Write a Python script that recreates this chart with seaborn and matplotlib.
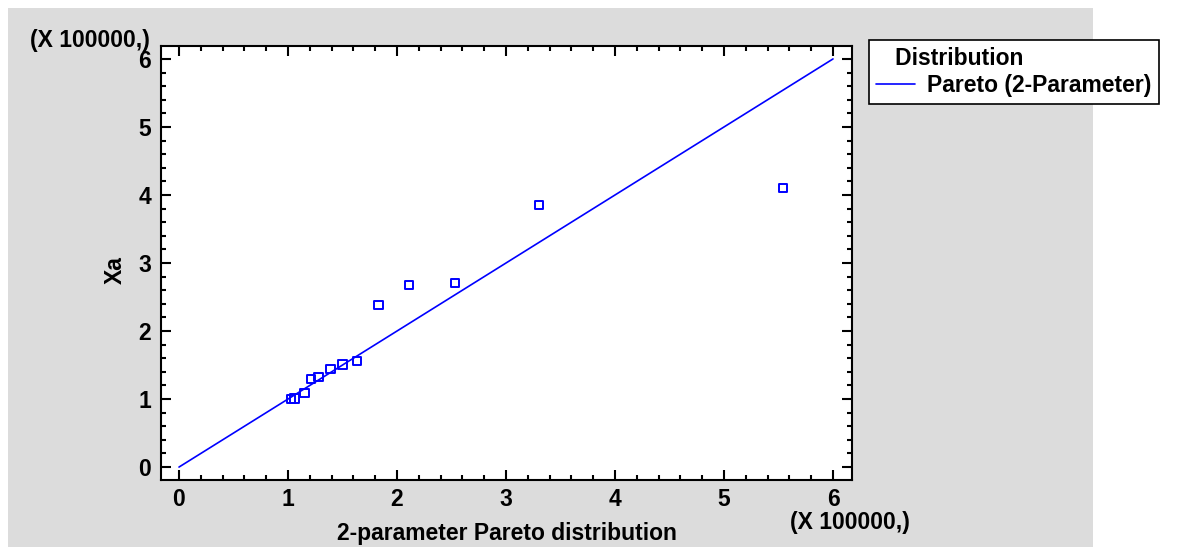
import pandas as pd
import seaborn as sns
import matplotlib.pyplot as plt
from matplotlib.patches import Rectangle
from matplotlib.ticker import MultipleLocator


# quantile plot values, both axes in units of 100000
pareto_q = [1.03, 1.06, 1.15, 1.21, 1.28, 1.39, 1.50, 1.63, 1.83, 2.11, 2.53, 3.30, 5.54]
xa_values = [1.00, 1.01, 1.09, 1.29, 1.32, 1.44, 1.51, 1.56, 2.38, 2.68, 2.71, 3.85, 4.10]
ref_x = [0, 6]
ref_y = [0, 6]
dist_name = "Pareto (2-Parameter)"

BLUE = '#0000ff'
GRAY = '#dcdcdc'
W, H = 1183, 547
FS = 16.5


def plot_quantiles():
    sns.set_theme(style='white')
    plt.rcParams['font.family'] = ['Liberation Sans', 'DejaVu Sans']
    plt.rcParams['font.weight'] = 'bold'
    for key in ('text.color', 'axes.labelcolor', 'xtick.color', 'ytick.color'):
        plt.rcParams[key] = 'black'

    points = pd.DataFrame({"q": pareto_q, "xa": xa_values})
    line = pd.DataFrame({"q": ref_x, "xa": ref_y})

    fig = plt.figure(figsize=(W / 100, H / 100), dpi=100)
    fig.patch.set_facecolor('white')
    fig.patches.append(Rectangle((8 / W, 0), (1093 - 8) / W, 1 - 8 / H,
                                 transform=fig.transFigure, facecolor=GRAY,
                                 edgecolor='none', zorder=-10))

    ax = fig.add_axes([161 / W, 1 - 480 / H, 691 / W, 434 / H])
    ax.set_facecolor('white')

    sns.lineplot(x="q", y="xa", data=line, color=BLUE, linewidth=1.2,
                 label=dist_name, ax=ax)
    sns.scatterplot(x="q", y="xa", data=points, marker='s', s=36,
                    ax=ax, zorder=3)
    pts = ax.collections[-1]
    pts.set_facecolor('none')
    pts.set_edgecolor(BLUE)
    pts.set_linewidth(1.4)

    ax.set_xlim(-0.165, 6.174)
    ax.set_ylim(-0.19, 6.19)
    for a in (ax.xaxis, ax.yaxis):
        a.set_major_locator(MultipleLocator(1))
        a.set_minor_locator(MultipleLocator(0.2))
    ax.tick_params(which='both', direction='in', top=True, right=True,
                   bottom=True, left=True, color='black', width=1.5)
    ax.tick_params(which='major', length=7, labelsize=FS, labelcolor='black')
    ax.tick_params(axis='x', which='major', pad=6)
    ax.tick_params(axis='y', which='major', pad=7)
    ax.tick_params(which='minor', length=3.5)
    for lbl in ax.get_xticklabels() + ax.get_yticklabels():
        lbl.set_fontweight('bold')
    for sp in ax.spines.values():
        sp.set_visible(True)
        sp.set_color('black')
        sp.set_linewidth(1.5)

    ax.set_xlabel("2-parameter Pareto distribution", fontsize=FS, fontweight='bold')
    ax.set_ylabel("Xa", fontsize=FS, fontweight='bold')
    ax.xaxis.set_label_coords(0.5, (480 - 522) / 434)
    ax.yaxis.label.set_va('center')
    ax.yaxis.set_label_coords((115 - 161) / 691, (480 - 270) / 434)

    fig.text(150 / W, 1 - 40 / H, "(X 100000,)", ha='right', va='center',
             fontsize=FS, fontweight='bold')
    fig.text(790 / W, 1 - 511 / H, "(X 100000,)", ha='left', va='top',
             fontsize=FS, fontweight='bold')

    leg = ax.legend(loc='upper left', bbox_to_anchor=(869 / W, 1 - 40 / H),
                    bbox_transform=fig.transFigure, borderaxespad=0,
                    title="   Distribution", alignment='left',
                    prop={'size': FS, 'weight': 'bold'},
                    title_fontproperties={'size': FS, 'weight': 'bold'},
                    frameon=True, fancybox=False, framealpha=1,
                    facecolor='white', edgecolor='black',
                    borderpad=0.3, handlelength=1.7, handletextpad=0.55,
                    labelspacing=0.2)
    leg.get_frame().set_linewidth(1.2)

    fig.savefig("out.png", dpi=100)


if __name__ == '__main__':
    plot_quantiles()
